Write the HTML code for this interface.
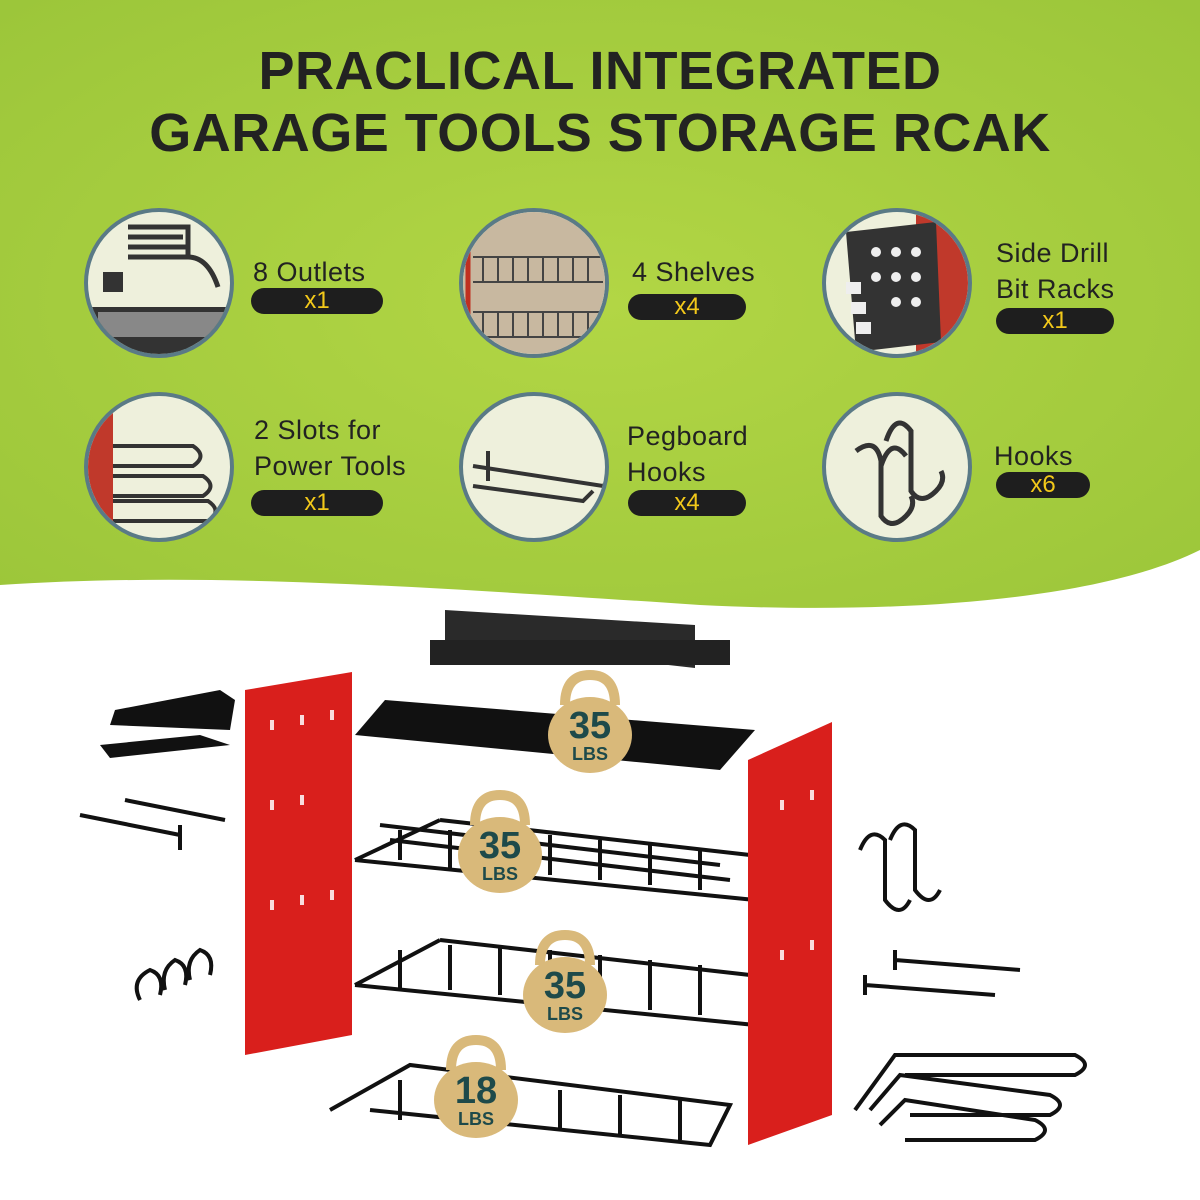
<!DOCTYPE html>
<html><head><meta charset="utf-8"><style>
html,body{margin:0;padding:0;}
body{width:1200px;height:1200px;position:relative;overflow:hidden;background:#fff;font-family:"Liberation Sans",sans-serif;}
.top{position:absolute;left:0;top:0;width:1200px;height:620px;}
h1{position:absolute;left:0;top:40px;width:1200px;margin:0;text-align:center;font-size:54px;line-height:62px;font-weight:bold;color:#222;letter-spacing:0.5px;}
.c{position:absolute;width:150px;height:150px;border-radius:50%;background:#eef0dc;border:4px solid #5a7a86;box-sizing:border-box;overflow:hidden;}
.lb{position:absolute;font-size:27px;color:#222;line-height:36px;letter-spacing:0.5px;}
.pill{position:absolute;height:26px;border-radius:13px;background:#1e1e1e;color:#f2c81a;font-size:24px;line-height:26px;text-align:center;}
</style></head><body>
<svg class="top" width="1200" height="620" viewBox="0 0 1200 620">
<defs><radialGradient id="g" cx="0.5" cy="0.5" r="0.7"><stop offset="0" stop-color="#b2d645"/><stop offset="1" stop-color="#9cc63a"/></radialGradient></defs>
<path d="M0 0H1200V550C1100 600 900 615 700 605C400 585 200 572 0 585Z" fill="url(#g)"/>
</svg>
<h1>PRACLICAL INTEGRATED<br>GARAGE TOOLS STORAGE RCAK</h1>

<div class="c" style="left:84px;top:208px"><svg width="150" height="150"><rect x="0" y="95" width="150" height="60" fill="#333"/><rect x="10" y="100" width="130" height="25" fill="#888"/><path d="M40 15 h60 v30 h-60 M40 25 h55 M40 35 h60 M100 45 q20 0 30 30" stroke="#333" stroke-width="5" fill="none"/><rect x="15" y="60" width="20" height="20" fill="#333"/></svg></div>
<div class="lb" style="left:253px;top:254px">8 Outlets</div>
<div class="pill" style="left:251px;top:288px;width:132px">x1</div>

<div class="c" style="left:459px;top:208px"><svg width="150" height="150" stroke="#444" stroke-width="2" fill="none"><rect x="0" y="0" width="150" height="150" fill="#c8b8a0" stroke="none"/><path d="M10 45h130M10 70h130M10 100h130M10 125h130"/><path d="M20 45v25M35 45v25M50 45v25M65 45v25M80 45v25M95 45v25M110 45v25M125 45v25M20 100v25M35 100v25M50 100v25M65 100v25M80 100v25M95 100v25M110 100v25M125 100v25"/><path d="M5 20v130M145 20v130" stroke="#c03020" stroke-width="5"/></svg></div>
<div class="lb" style="left:632px;top:254px">4 Shelves</div>
<div class="pill" style="left:628px;top:294px;width:118px">x4</div>

<div class="c" style="left:822px;top:208px"><svg width="150" height="150"><rect x="90" y="0" width="60" height="150" fill="#c0392b"/><polygon points="20,20 110,10 115,130 30,140" fill="#333"/><g fill="#eee"><circle cx="50" cy="40" r="5"/><circle cx="70" cy="40" r="5"/><circle cx="90" cy="40" r="5"/><circle cx="50" cy="65" r="5"/><circle cx="70" cy="65" r="5"/><circle cx="90" cy="65" r="5"/><circle cx="70" cy="90" r="5"/><circle cx="90" cy="90" r="5"/><rect x="20" y="70" width="15" height="12"/><rect x="25" y="90" width="15" height="12"/><rect x="30" y="110" width="15" height="12"/></g></svg></div>
<div class="lb" style="left:996px;top:235px">Side Drill<br>Bit Racks</div>
<div class="pill" style="left:996px;top:308px;width:118px">x1</div>

<div class="c" style="left:84px;top:392px"><svg width="150" height="150" stroke="#333" stroke-width="4" fill="none"><rect x="0" y="0" width="25" height="150" fill="#c0392b" stroke="none"/><path d="M25 50h80q15 10 0 20h-80M25 80h90q15 10 0 20h-90M25 105h95q15 10 0 20h-95"/></svg></div>
<div class="lb" style="left:254px;top:412px">2 Slots for<br>Power Tools</div>
<div class="pill" style="left:251px;top:490px;width:132px">x1</div>

<div class="c" style="left:459px;top:392px"><svg width="150" height="150" stroke="#333" stroke-width="4" fill="none"><path d="M10 70l130 20 10-10M10 90l110 15 10-10M25 55v30"/></svg></div>
<div class="lb" style="left:627px;top:418px">Pegboard<br>Hooks</div>
<div class="pill" style="left:628px;top:490px;width:118px">x4</div>

<div class="c" style="left:822px;top:392px"><svg width="150" height="150" stroke="#333" stroke-width="5" fill="none"><path d="M30 55q20-15 25 10v55q10 15 25 0q10-10 5-20M60 45q10-30 25-10v60q10 15 25 0q10-10 5-20M55 70q10-30 25-10"/></svg></div>
<div class="lb" style="left:994px;top:438px">Hooks</div>
<div class="pill" style="left:996px;top:472px;width:94px">x6</div>

<svg style="position:absolute;left:0;top:600px" width="1200" height="600" viewBox="0 600 1200 600">
<g fill="#111">
<polygon points="445,610 695,625 695,668 445,640" fill="#2a2a2a"/><rect x="430" y="640" width="300" height="25" fill="#222"/>
<polygon points="385,700 755,730 720,770 355,735"/>
<polygon points="115,710 220,690 235,700 230,730 110,725"/><polygon points="100,745 200,735 230,745 110,758"/>
</g>
<g stroke="#111" stroke-width="4" fill="none">
<path d="M440 820l310 35M355 860l400 40M355 860l85-40M760 855v45"/>
<path d="M380 825l340 40M390 840l340 40M400 830v30M450 830v40M500 830v40M550 835v40M600 840v40M650 845v40M700 850v40"/>
<path d="M440 940l310 35M355 985l400 40M355 985l85-45"/>
<path d="M400 950v40M450 945v45M500 945v50M550 950v50M600 955v50M650 960v50M700 965v50"/>
<path d="M330 1110l80-45 320 40-20 40-340-35M400 1080v40M450 1080v40M500 1085v40M560 1090v40M620 1095v40M680 1100v40"/>
<path d="M80 815l100 20M125 800l100 20M180 825v25"/>
<path d="M140 1000q-10-20 10-30 15 5 10 25M165 990q-5-20 10-30 15 5 10 25M190 980q-5-20 10-30 15 5 10 25"/>
<path d="M860 850q10-25 25-10v60q15 20 25 0M890 840q10-25 25-10v60q15 20 25 0"/>
<path d="M895 960l125 10M865 985l130 10M895 950v20M865 975v20"/>
<path d="M855 1110l40-55h180q20 10 0 20h-170M870 1110l30-35 150 20q20 10 0 20h-140M880 1125l25-25 130 20q20 10 0 20h-130"/>
</g>
<polygon points="245,690 352,672 352,1035 245,1055" fill="#d91f1c"/>
<polygon points="748,760 832,722 832,1115 748,1145" fill="#d91f1c"/>
<g fill="#fff" opacity="0.85"><rect x="270" y="720" width="4" height="10"/><rect x="300" y="715" width="4" height="10"/><rect x="330" y="710" width="4" height="10"/><rect x="270" y="800" width="4" height="10"/><rect x="300" y="795" width="4" height="10"/><rect x="270" y="900" width="4" height="10"/><rect x="300" y="895" width="4" height="10"/><rect x="330" y="890" width="4" height="10"/><rect x="780" y="800" width="4" height="10"/><rect x="810" y="790" width="4" height="10"/><rect x="780" y="950" width="4" height="10"/><rect x="810" y="940" width="4" height="10"/></g>
<g font-family="Liberation Sans" font-weight="bold" text-anchor="middle" fill="#1e4a4a">
<g transform="translate(590,720)"><path d="M-25,-15 q0-30 25-30 q25 0 25 30" stroke="#d9b97a" stroke-width="10" fill="none"/><ellipse cx="0" cy="15" rx="42" ry="38" fill="#d9b97a"/><text y="18" font-size="38">35</text><text y="40" font-size="18">LBS</text></g>
<g transform="translate(500,840)"><path d="M-25,-15 q0-30 25-30 q25 0 25 30" stroke="#d9b97a" stroke-width="10" fill="none"/><ellipse cx="0" cy="15" rx="42" ry="38" fill="#d9b97a"/><text y="18" font-size="38">35</text><text y="40" font-size="18">LBS</text></g>
<g transform="translate(565,980)"><path d="M-25,-15 q0-30 25-30 q25 0 25 30" stroke="#d9b97a" stroke-width="10" fill="none"/><ellipse cx="0" cy="15" rx="42" ry="38" fill="#d9b97a"/><text y="18" font-size="38">35</text><text y="40" font-size="18">LBS</text></g>
<g transform="translate(476,1085)"><path d="M-25,-15 q0-30 25-30 q25 0 25 30" stroke="#d9b97a" stroke-width="10" fill="none"/><ellipse cx="0" cy="15" rx="42" ry="38" fill="#d9b97a"/><text y="18" font-size="38">18</text><text y="40" font-size="18">LBS</text></g>
</g>
</svg>
</body></html>
